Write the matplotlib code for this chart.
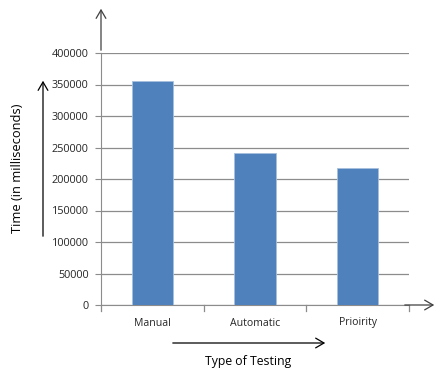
import matplotlib
matplotlib.use("Agg")
import matplotlib.pyplot as plt

categories = ["Manual", "Automatic", "Prioirity"]
values = [355000, 242000, 217000]
yticks = [0, 50000, 100000, 150000, 200000, 250000, 300000, 350000, 400000]

plt.rcParams['font.family'] = ['Open Sans', 'DejaVu Sans']

W, H = 438, 371
fig = plt.figure(figsize=(W/100, H/100), dpi=100)
ax = fig.add_axes([101/W, 1-305/H, 308/W, 252/H])

x = list(range(len(categories)))
ax.bar(x, values, width=0.4, color="#4F81BD", edgecolor="#A7C0DE", linewidth=0.6, zorder=3)
ax.set_xlim(-0.5, 2.5)
ax.set_ylim(0, 400000)
ax.set_yticks(yticks)
ax.set_yticklabels([str(v) for v in yticks], fontsize=7.8, color="#262626")
ax.yaxis.grid(True, color="#8C8C8C", linewidth=0.9, zorder=0)
ax.set_xticks(x)
ax.set_xticklabels(categories, fontsize=7.6, color="#262626")
ax.tick_params(axis='x', length=0, pad=9)
ax.tick_params(axis='y', length=4, color="#8C8C8C", pad=5)
for b in [-0.5, 0.5, 1.5, 2.5]:
    ax.plot([b, b], [0, -9000], color="#8C8C8C", linewidth=0.9, clip_on=False)
for s in ["top", "right"]:
    ax.spines[s].set_visible(False)
ax.spines["left"].set_color("#8C8C8C")
ax.spines["bottom"].set_color("#8C8C8C")

def farrow(x0, y0, x1, y1, color="black"):
    fig.add_artist(matplotlib.patches.FancyArrowPatch(
        (x0/W, 1-y0/H), (x1/W, 1-y1/H), transform=fig.transFigure,
        arrowstyle="->,head_length=6,head_width=3.5", color=color, linewidth=0.9,
        mutation_scale=1))

farrow(101, 53, 101, 6, color="#404040")
farrow(402, 305, 437, 305, color="#404040")
farrow(43, 239, 43, 78)
farrow(170, 343, 328, 343)

fig.text(18/W, 1-168/H, "Time (in milliseconds)", rotation=90, ha="center", va="center", fontsize=9.3)
fig.text(248/W, 1-362/H, "Type of Testing", ha="center", va="center", fontsize=8.8)

fig.savefig("out.png", dpi=100)
